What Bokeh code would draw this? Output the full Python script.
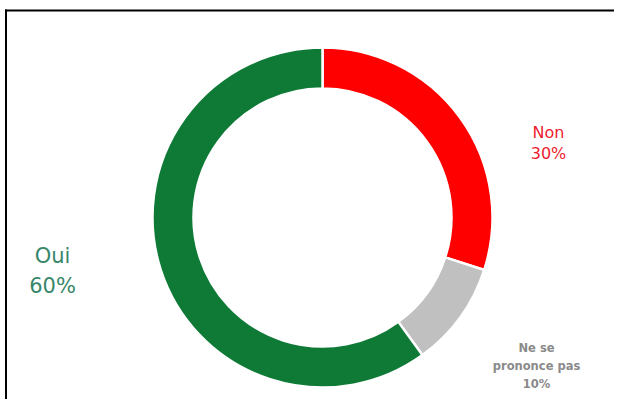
import math
from bokeh.plotting import figure
from bokeh.models import Range1d, ColumnDataSource
from bokeh.core.properties import value
from bokeh.embed import file_html
from bokeh.resources import INLINE

# ---- data ----
categories = ["Non", "Ne se\nprononce pas", "Oui"]
values = [30, 10, 60]
colors = ["#ff0000", "#c0c0c0", "#0e7a36"]
label_colors = ["#ee1c30", "#8a8a8a", "#38876a"]

# ---- layout (picture pixel coordinates, y measured upward from bottom 407) ----
W, H = 614, 399
PAGE_H = 407
cx, cy_page = 322, 217
r_out, r_in = 170, 129

p = figure(width=W, height=H, output_backend="svg", toolbar_location=None,
           x_range=Range1d(0, W), y_range=Range1d(PAGE_H - H, PAGE_H),
           min_border=0)
p.axis.visible = False
p.grid.visible = False
p.outline_line_color = None
p.background_fill_color = "white"

total = sum(values)
starts, ends = [], []
a = math.pi / 2
for v in values:
    starts.append(a)
    a = a - 2 * math.pi * v / total
    ends.append(a)

src = ColumnDataSource(dict(start=starts, end=ends, color=colors,
                            cat=categories, val=values))
p.annular_wedge(x=cx, y=PAGE_H - cy_page, inner_radius=r_in, outer_radius=r_out,
                start_angle="start", end_angle="end", direction="clock",
                fill_color="color", line_color="white", line_width=2.5, source=src)

# label settings: (center x, first baseline y, line spacing, font size, style)
label_layout = [
    (548, 132, 21, "16px", "normal"),
    (536, 347, 18, "11.5px", "bold"),
    (52, 255, 30, "21px", "normal"),
]
for cat, val, col, (lx, ly, dy, fs, fst) in zip(categories, values, label_colors, label_layout):
    lines = cat.split("\n") + [f"{val}%"]
    xs = [lx] * len(lines)
    ys = [PAGE_H - (ly + i * dy) for i in range(len(lines))]
    p.text(x=xs, y=ys, text=lines, text_align="center", text_baseline="alphabetic",
           text_color=col, text_font=value("DejaVu Sans"), text_font_size=fs,
           text_font_style=fst)

# frame border lines (top and left)
top_y = PAGE_H - 10
left_x = 5.5
p.segment(x0=[left_x - 1, left_x], y0=[top_y, top_y + 1], x1=[W, left_x], y1=[top_y, 0],
          line_color="black", line_width=2)

open("out.html", "w").write(file_html(p, INLINE))
